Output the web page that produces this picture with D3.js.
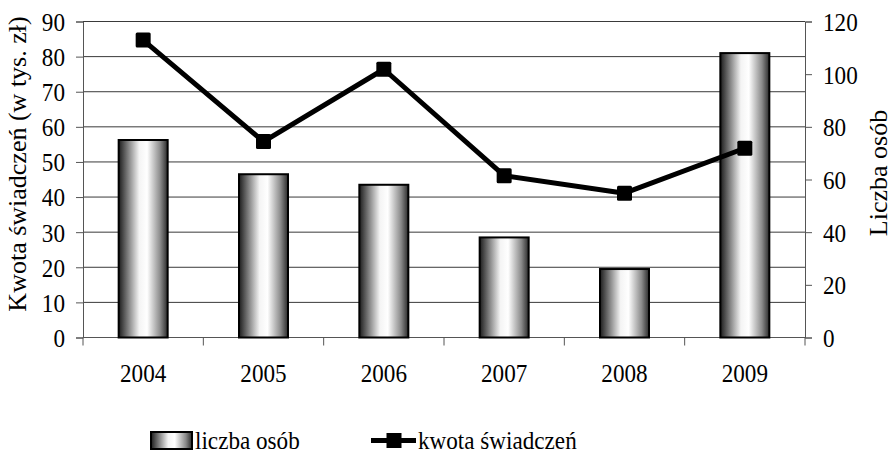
<!DOCTYPE html>
<html>
<head>
<meta charset="utf-8">
<script src="https://cdn.jsdelivr.net/npm/d3@7"></script>
<style>
  body { margin: 0; background: #fff; }
  svg, svg text { font-family: "Times New Roman", "Liberation Serif", Times, serif; }
</style>
</head>
<body>
<script>
// data
const years = ["2004", "2005", "2006", "2007", "2008", "2009"];
const liczbaOsob = [75, 62, 58, 38, 26, 108];          // bars, right axis
const kwota = [84.7, 55.8, 76.4, 46.1, 41.1, 53.9];    // line, left axis (tys. zł)
const leftTicks = [0, 10, 20, 30, 40, 50, 60, 70, 80, 90];
const rightTicks = [0, 20, 40, 60, 80, 100, 120];

const width = 892, height = 455;
const m = { left: 83, right: 805, top: 21.5, bottom: 337.5 };
const FONT = "'Times New Roman', 'Liberation Serif', Times, serif";
const FS = 26;
const SQUEEZE = 0.89;   // text in the picture is a bit narrower than normal

const svg = d3.select("body").append("svg")
    .attr("width", width)
    .attr("height", height)
    .attr("font-family", FONT);

// narrow horizontal text to match the reference
const squeeze = sel => sel.each(function () {
    const w = this.getComputedTextLength();
    d3.select(this).attr("textLength", w * SQUEEZE).attr("lengthAdjust", "spacingAndGlyphs");
});

const defs = svg.append("defs");
const grad = defs.append("linearGradient")
    .attr("id", "barGrad")
    .attr("x1", "0%").attr("x2", "100%")
    .attr("y1", "0%").attr("y2", "0%");
[[0, "#1c1c1c"], [0.12, "#5a5a5a"], [0.42, "#f4f4f4"], [0.58, "#ffffff"], [0.85, "#8a8a8a"], [1, "#2a2a2a"]]
    .forEach(s => grad.append("stop").attr("offset", s[0]).attr("stop-color", s[1]));

const x = d3.scaleBand().domain(years).range([m.left, m.right]).paddingInner(0).paddingOuter(0);
const yL = d3.scaleLinear().domain([0, 90]).range([m.bottom, m.top]);
const yR = d3.scaleLinear().domain([0, 120]).range([m.bottom, m.top]);

// gridlines
svg.append("g")
    .selectAll("line")
    .data(leftTicks.filter(d => d > 0))
    .enter().append("line")
    .attr("x1", m.left).attr("x2", m.right)
    .attr("y1", d => yL(d)).attr("y2", d => yL(d))
    .attr("stroke", "#3a3a3a")
    .attr("stroke-width", 1);

// left axis
const leftAxis = svg.append("g")
    .attr("transform", `translate(${m.left},0)`)
    .call(d3.axisLeft(yL).tickValues(leftTicks).tickSize(7).tickPadding(11));

// right axis
const rightAxis = svg.append("g")
    .attr("transform", `translate(${m.right},0)`)
    .call(d3.axisRight(yR).tickValues(rightTicks).tickSize(7).tickPadding(11));

[leftAxis, rightAxis].forEach(g => {
    g.attr("font-family", FONT).attr("font-size", FS);
    g.select(".domain").attr("stroke", "#555");
    g.selectAll(".tick line").attr("stroke", "#555");
    g.selectAll(".tick text").attr("fill", "#000").attr("dy", "0.34em").call(squeeze);
});

// bottom axis with ticks between categories
const bottom = svg.append("g");
bottom.append("line")
    .attr("x1", m.left).attr("x2", m.right)
    .attr("y1", m.bottom).attr("y2", m.bottom)
    .attr("stroke", "#555");
bottom.selectAll("line.tk")
    .data(years.concat(["end"]))
    .enter().append("line")
    .attr("class", "tk")
    .attr("x1", (d, i) => m.left + i * x.step())
    .attr("x2", (d, i) => m.left + i * x.step())
    .attr("y1", m.bottom).attr("y2", m.bottom + 8)
    .attr("stroke", "#555");
bottom.selectAll("text")
    .data(years)
    .enter().append("text")
    .attr("x", d => x(d) + x.bandwidth() / 2)
    .attr("y", 382)
    .attr("text-anchor", "middle")
    .attr("font-size", FS)
    .attr("fill", "#000")
    .text(d => d)
    .call(squeeze);

// bars
const bw = 49;
svg.append("g")
    .selectAll("rect")
    .data(liczbaOsob)
    .enter().append("rect")
    .attr("x", (d, i) => x(years[i]) + x.bandwidth() / 2 - bw / 2)
    .attr("y", d => yR(d))
    .attr("width", bw)
    .attr("height", d => m.bottom - yR(d))
    .attr("fill", "url(#barGrad)")
    .attr("stroke", "#000")
    .attr("stroke-width", 2);

// line
const line = d3.line()
    .x((d, i) => x(years[i]) + x.bandwidth() / 2)
    .y(d => yL(d));
svg.append("path")
    .datum(kwota)
    .attr("d", line)
    .attr("fill", "none")
    .attr("stroke", "#000")
    .attr("stroke-width", 5)
    .attr("stroke-linejoin", "round");
svg.append("g")
    .selectAll("rect")
    .data(kwota)
    .enter().append("rect")
    .attr("x", (d, i) => x(years[i]) + x.bandwidth() / 2 - 7.5)
    .attr("y", d => yL(d) - 7.5)
    .attr("width", 15)
    .attr("height", 15)
    .attr("rx", 1.5)
    .attr("fill", "#000");

// axis titles
svg.append("text")
    .attr("transform", "translate(26,164) rotate(-90)")
    .attr("text-anchor", "middle")
    .attr("font-size", FS)
    .text("Kwota świadczeń (w tys. zł)");
svg.append("text")
    .attr("transform", "translate(887,173) rotate(-90)")
    .attr("text-anchor", "middle")
    .attr("font-size", FS)
    .text("Liczba osób");

// legend
const lg = svg.append("g");
lg.append("rect")
    .attr("x", 151).attr("y", 432)
    .attr("width", 41).attr("height", 17)
    .attr("fill", "url(#barGrad)")
    .attr("stroke", "#000")
    .attr("stroke-width", 2);
lg.append("text")
    .attr("x", 195).attr("y", 449)
    .attr("font-size", FS)
    .text("liczba osób")
    .call(squeeze);
lg.append("line")
    .attr("x1", 371).attr("x2", 416)
    .attr("y1", 440.5).attr("y2", 440.5)
    .attr("stroke", "#000")
    .attr("stroke-width", 5);
lg.append("rect")
    .attr("x", 386.5).attr("y", 433)
    .attr("width", 15).attr("height", 15)
    .attr("fill", "#000");
lg.append("text")
    .attr("x", 418).attr("y", 449)
    .attr("font-size", FS)
    .text("kwota świadczeń")
    .call(squeeze);
</script>
</body>
</html>
